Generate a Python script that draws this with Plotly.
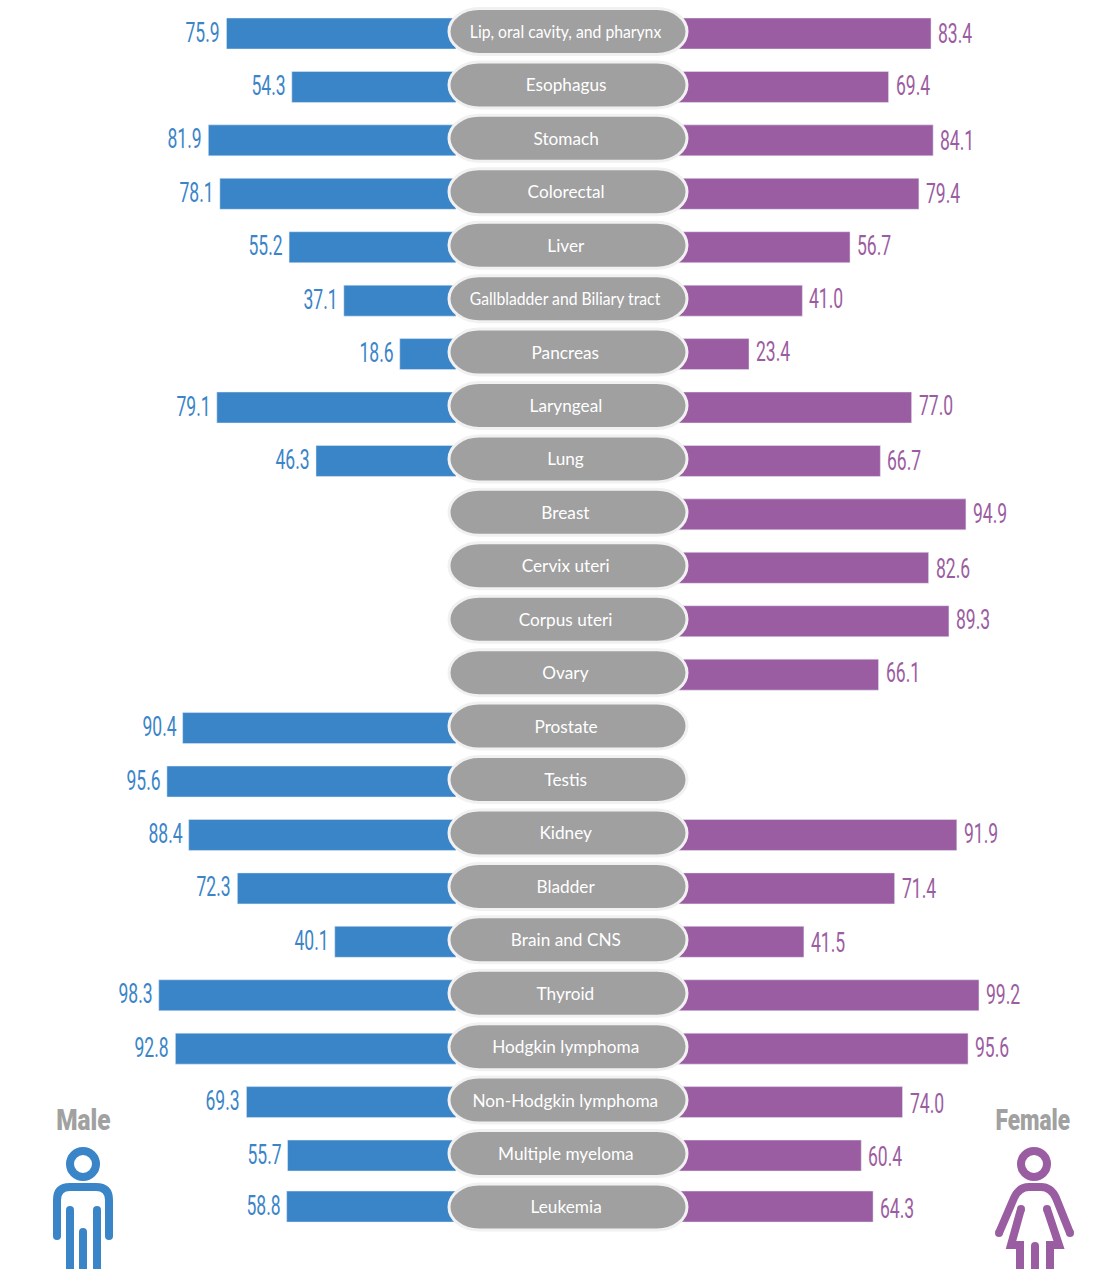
import plotly.graph_objects as go

categories = ["Lip, oral cavity, and pharynx", "Esophagus", "Stomach", "Colorectal", "Liver",
              "Gallbladder and Biliary tract", "Pancreas", "Laryngeal", "Lung", "Breast",
              "Cervix uteri", "Corpus uteri", "Ovary", "Prostate", "Testis", "Kidney", "Bladder",
              "Brain and CNS", "Thyroid", "Hodgkin lymphoma", "Non-Hodgkin lymphoma",
              "Multiple myeloma", "Leukemia"]
male = [75.9, 54.3, 81.9, 78.1, 55.2, 37.1, 18.6, 79.1, 46.3, None, None, None, None,
        90.4, 95.6, 88.4, 72.3, 40.1, 98.3, 92.8, 69.3, 55.7, 58.8]
# bar lengths as drawn: the reference's Leukemia bar is shorter than its 58.8 label says
male_drawn = [75.9, 54.3, 81.9, 78.1, 55.2, 37.1, 18.6, 79.1, 46.3, None, None, None, None,
              90.4, 95.6, 88.4, 72.3, 40.1, 98.3, 92.8, 69.3, 55.7, 56.0]
female = [83.4, 69.4, 84.1, 79.4, 56.7, 41.0, 23.4, 77.0, 66.7, 94.9, 82.6, 89.3, 66.1,
          None, None, 91.9, 71.4, 41.5, 99.2, 95.6, 74.0, 60.4, 64.3]
# the last row sits a little closer to the one above it in the reference
bar_rows = [float(i) for i in range(22)] + [21.955]
# small vertical nudges of the female value labels, in pixels (down is positive)
female_label_nudge = [0.5, -1, 1, 0, -1, -1.5, -2, -1.5, 0, 0, 1, -1, -2, 0, 0, -1, 1, 1, 0, -1, 2, 1.5, 2]

W, H = 1108, 1269
BLUE, PURPLE, GRAY = "#3A85C8", "#9B5DA1", "#9FA09F"
y0, pitch = 33.5, 53.43
male_zero, male_k = 456.0, 3.024
female_zero, female_k = 678.0, 3.034
VALUE_FONT = "Roboto"
PILL_FONT = "Lato"
pill_offset = -2 / pitch


def px(x):
    return x / W


def py(y):
    return 1 - y / H


fig = go.Figure()
fig.add_bar(y=bar_rows, x=male_drawn, orientation="h", marker_color=BLUE, width=31 / pitch,
            xaxis="x", yaxis="y", name="Male", showlegend=False)
fig.add_bar(y=bar_rows, x=female, orientation="h", marker_color=PURPLE, width=31 / pitch,
            xaxis="x2", yaxis="y", name="Female", showlegend=False)

annotations = []
for r, v, d in zip(bar_rows, male, male_drawn):
    if v is not None:
        annotations.append(dict(x=d, y=r, xref="x", yref="y", text=f"{v:.1f}", showarrow=False,
                                xanchor="right", yanchor="middle", xshift=-4, yshift=1,
                                font=dict(family=VALUE_FONT, size=27, color=BLUE)))
for r, v, n in zip(bar_rows, female, female_label_nudge):
    if v is not None:
        annotations.append(dict(x=v, y=r, xref="x2", yref="y", text=f"{v:.1f}", showarrow=False,
                                xanchor="left", yanchor="middle", xshift=5, yshift=-n,
                                font=dict(family=VALUE_FONT, size=27, color=PURPLE)))
for i, c in enumerate(categories):
    annotations.append(dict(x=px(565.5), y=i + pill_offset, xref="paper", yref="y", text=c,
                            showarrow=False, xanchor="center", yanchor="middle",
                            font=dict(family=PILL_FONT, size=17.5, color="white")))
annotations += [
    dict(x=px(83), y=py(1120), xref="paper", yref="paper", text="Male", showarrow=False,
         xanchor="center", yanchor="middle",
         font=dict(family=VALUE_FONT, size=29, weight=900, color="#A0A1A0")),
    dict(x=px(1033), y=py(1120), xref="paper", yref="paper", text="Female", showarrow=False,
         xanchor="center", yanchor="middle",
         font=dict(family=VALUE_FONT, size=29, weight=900, color="#A0A1A0")),
]

shapes = []


def pill_path(i):
    c = i + pill_offset
    xl, xr, r = px(449), px(687), 23 / pitch
    rx = 30 / W
    t, b = c - r, c + r
    k = 0.55
    return (f"M {xl + rx} {t} L {xr - rx} {t} "
            f"C {xr - rx * (1 - k)} {t} {xr} {c - r * k} {xr} {c} "
            f"C {xr} {c + r * k} {xr - rx * (1 - k)} {b} {xr - rx} {b} "
            f"L {xl + rx} {b} "
            f"C {xl + rx * (1 - k)} {b} {xl} {c + r * k} {xl} {c} "
            f"C {xl} {c - r * k} {xl + rx * (1 - k)} {t} {xl + rx} {t} Z")


for i in range(len(categories)):
    shapes.append(dict(type="path", path=pill_path(i), xref="paper", yref="y", fillcolor=GRAY,
                       line=dict(color="#F2F1F2", width=3), layer="above"))


def stroke(points, color, curve=None):
    path = curve if curve else "M " + " L ".join(f"{px(x)} {py(y)}" for x, y in points)
    shapes.append(dict(type="path", path=path, xref="paper", yref="paper",
                       line=dict(color=color, width=8), fillcolor="rgba(0,0,0,0)"))
    for x, y in (points[0], points[-1]):
        shapes.append(dict(type="circle", xref="paper", yref="paper", x0=px(x - 4), x1=px(x + 4),
                           y0=py(y + 4), y1=py(y - 4), fillcolor=color, line_width=0))


def head(cx, cy, color):
    shapes.append(dict(type="circle", xref="paper", yref="paper", x0=px(cx - 13), x1=px(cx + 13),
                       y0=py(cy + 13), y1=py(cy - 13), line=dict(color=color, width=8)))


def curve(cmds):
    out = []
    for c, pts in cmds:
        out.append(c + " " + " ".join(f"{px(x)} {py(y)}" for x, y in pts))
    return " ".join(out)


# male icon
head(83, 1164, BLUE)
stroke([(57, 1236), (109, 1236)], BLUE, curve([
    ("M", [(57, 1236)]), ("L", [(57, 1200)]), ("Q", [(57, 1187), (70, 1187)]),
    ("L", [(96, 1187)]), ("Q", [(109, 1187), (109, 1200)]), ("L", [(109, 1236)])]))
stroke([(70, 1210), (70, 1275)], BLUE)
stroke([(83, 1232), (83, 1275)], BLUE)
stroke([(97, 1210), (97, 1275)], BLUE)

# female icon
head(1034, 1164, PURPLE)
stroke([(999, 1233), (1070, 1233)], PURPLE, curve([
    ("M", [(999, 1233)]), ("L", [(1014, 1198)]), ("Q", [(1019, 1187), (1029, 1187)]),
    ("L", [(1041, 1187)]), ("Q", [(1051, 1187), (1056, 1198)]), ("L", [(1070, 1233)])]))
stroke([(1021, 1209), (1011, 1245), (1020, 1245), (1020, 1275)], PURPLE)
stroke([(1047, 1209), (1059, 1245), (1050, 1245), (1050, 1275)], PURPLE)
stroke([(1035, 1246), (1035, 1275)], PURPLE)

fig.update_layout(
    width=W, height=H, margin=dict(l=0, r=0, t=0, b=0), paper_bgcolor="white",
    plot_bgcolor="white", showlegend=False,
    xaxis=dict(domain=[0, px(male_zero)], range=[male_zero / male_k, 0], visible=False),
    xaxis2=dict(domain=[px(female_zero), 1], range=[0, (W - female_zero) / female_k], visible=False),
    yaxis=dict(range=[(H - y0) / pitch, -y0 / pitch], visible=False),
    shapes=shapes, annotations=annotations,
)

# the reference uses condensed type; no condensed family is installed, so narrow the real text
post = """
document.body.style.margin = '0';
document.querySelectorAll('.annotation-text').forEach(function (t) {
  var s = t.textContent, r = t.getBoundingClientRect(), sx = 0.985, ox = 'center';
  if (/^[0-9.]+$/.test(s)) { sx = 0.65; ox = r.left < 449 ? 'right' : 'left'; }
  else if (s === 'Male') { sx = 0.84; }
  else if (s === 'Female') { sx = 0.78; }
  else if (s.indexOf('Lip') === 0 || s.indexOf('Gallbladder') === 0) { sx = 0.9; }
  t.style.transformBox = 'fill-box';
  t.style.transformOrigin = ox + ' center';
  t.style.transform = 'scaleX(' + sx + ')';
});
"""
fig.write_html("out.html", post_script=post, config={"displayModeBar": False})
